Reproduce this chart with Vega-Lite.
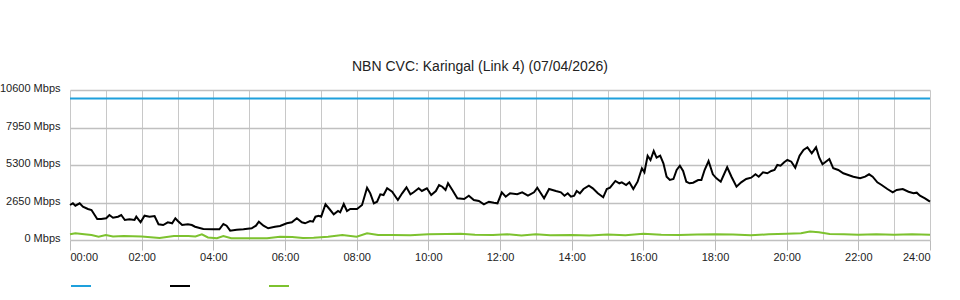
{
  "$schema": "https://vega.github.io/schema/vega-lite/v6.json",
  "width": 860,
  "height": 150,
  "autosize": {"type": "none"},
  "padding": {"left": 70, "top": 90, "right": 30, "bottom": 60},
  "background": "white",
  "title": {"text": "NBN CVC: Karingal (Link 4) (07/04/2026)", "fontSize": 14, "fontWeight": "normal", "color": "#222", "font": "Liberation Sans", "offset": 9, "anchor": "middle", "dx": -20},
  "config": {
    "font": "Liberation Sans",
    "view": {"stroke": null},
    "axis": {"labelFont": "Liberation Sans", "labelFontSize": 11, "labelColor": "#222"}
  },
  "data": {"values": [
    {"series": "Capacity", "t": 0, "v": 10000},
    {"series": "Capacity", "t": 24, "v": 10000},
    {"series": "In", "t": 0.00, "v": 2473},
    {"series": "In", "t": 0.08, "v": 2594},
    {"series": "In", "t": 0.15, "v": 2424},
    {"series": "In", "t": 0.27, "v": 2594},
    {"series": "In", "t": 0.36, "v": 2353},
    {"series": "In", "t": 0.50, "v": 2191},
    {"series": "In", "t": 0.60, "v": 2120},
    {"series": "In", "t": 0.76, "v": 1484},
    {"series": "In", "t": 0.87, "v": 1484},
    {"series": "In", "t": 1.01, "v": 1534},
    {"series": "In", "t": 1.10, "v": 1767},
    {"series": "In", "t": 1.20, "v": 1576},
    {"series": "In", "t": 1.34, "v": 1647},
    {"series": "In", "t": 1.43, "v": 1767},
    {"series": "In", "t": 1.53, "v": 1413},
    {"series": "In", "t": 1.66, "v": 1463},
    {"series": "In", "t": 1.80, "v": 1413},
    {"series": "In", "t": 1.85, "v": 1647},
    {"series": "In", "t": 1.97, "v": 1251},
    {"series": "In", "t": 2.08, "v": 1717},
    {"series": "In", "t": 2.22, "v": 1647},
    {"series": "In", "t": 2.36, "v": 1696},
    {"series": "In", "t": 2.47, "v": 1110},
    {"series": "In", "t": 2.60, "v": 1060},
    {"series": "In", "t": 2.73, "v": 1251},
    {"series": "In", "t": 2.85, "v": 1180},
    {"series": "In", "t": 2.94, "v": 1534},
    {"series": "In", "t": 3.01, "v": 1343},
    {"series": "In", "t": 3.13, "v": 1060},
    {"series": "In", "t": 3.29, "v": 1110},
    {"series": "In", "t": 3.40, "v": 1060},
    {"series": "In", "t": 3.49, "v": 940},
    {"series": "In", "t": 3.72, "v": 777},
    {"series": "In", "t": 4.00, "v": 756},
    {"series": "In", "t": 4.17, "v": 756},
    {"series": "In", "t": 4.28, "v": 1131},
    {"series": "In", "t": 4.37, "v": 1011},
    {"series": "In", "t": 4.47, "v": 657},
    {"series": "In", "t": 4.65, "v": 728},
    {"series": "In", "t": 4.84, "v": 756},
    {"series": "In", "t": 5.07, "v": 827},
    {"series": "In", "t": 5.19, "v": 1011},
    {"series": "In", "t": 5.27, "v": 1293},
    {"series": "In", "t": 5.40, "v": 1011},
    {"series": "In", "t": 5.53, "v": 827},
    {"series": "In", "t": 5.72, "v": 940},
    {"series": "In", "t": 5.86, "v": 989},
    {"series": "In", "t": 6.05, "v": 1180},
    {"series": "In", "t": 6.19, "v": 1251},
    {"series": "In", "t": 6.33, "v": 1534},
    {"series": "In", "t": 6.47, "v": 1251},
    {"series": "In", "t": 6.56, "v": 1180},
    {"series": "In", "t": 6.70, "v": 1343},
    {"series": "In", "t": 6.78, "v": 1293},
    {"series": "In", "t": 6.85, "v": 1647},
    {"series": "In", "t": 6.94, "v": 1717},
    {"series": "In", "t": 7.01, "v": 1647},
    {"series": "In", "t": 7.13, "v": 2523},
    {"series": "In", "t": 7.24, "v": 2191},
    {"series": "In", "t": 7.36, "v": 1816},
    {"series": "In", "t": 7.48, "v": 2049},
    {"series": "In", "t": 7.54, "v": 1958},
    {"series": "In", "t": 7.64, "v": 2544},
    {"series": "In", "t": 7.73, "v": 2049},
    {"series": "In", "t": 7.82, "v": 2191},
    {"series": "In", "t": 8.01, "v": 2191},
    {"series": "In", "t": 8.15, "v": 2473},
    {"series": "In", "t": 8.29, "v": 3696},
    {"series": "In", "t": 8.38, "v": 3300},
    {"series": "In", "t": 8.48, "v": 2594},
    {"series": "In", "t": 8.57, "v": 2707},
    {"series": "In", "t": 8.66, "v": 3230},
    {"series": "In", "t": 8.75, "v": 3180},
    {"series": "In", "t": 8.85, "v": 3654},
    {"series": "In", "t": 8.99, "v": 3413},
    {"series": "In", "t": 9.15, "v": 2827},
    {"series": "In", "t": 9.27, "v": 3300},
    {"series": "In", "t": 9.39, "v": 3724},
    {"series": "In", "t": 9.50, "v": 3230},
    {"series": "In", "t": 9.59, "v": 3371},
    {"series": "In", "t": 9.73, "v": 3654},
    {"series": "In", "t": 9.82, "v": 3463},
    {"series": "In", "t": 9.96, "v": 3654},
    {"series": "In", "t": 10.08, "v": 3180},
    {"series": "In", "t": 10.21, "v": 3463},
    {"series": "In", "t": 10.30, "v": 3887},
    {"series": "In", "t": 10.39, "v": 3767},
    {"series": "In", "t": 10.48, "v": 3534},
    {"series": "In", "t": 10.55, "v": 4007},
    {"series": "In", "t": 10.67, "v": 3534},
    {"series": "In", "t": 10.81, "v": 2947},
    {"series": "In", "t": 11.00, "v": 2897},
    {"series": "In", "t": 11.13, "v": 3131},
    {"series": "In", "t": 11.27, "v": 2827},
    {"series": "In", "t": 11.41, "v": 2756},
    {"series": "In", "t": 11.55, "v": 2523},
    {"series": "In", "t": 11.69, "v": 2707},
    {"series": "In", "t": 11.83, "v": 2636},
    {"series": "In", "t": 11.93, "v": 2594},
    {"series": "In", "t": 12.05, "v": 3371},
    {"series": "In", "t": 12.16, "v": 3060},
    {"series": "In", "t": 12.28, "v": 3300},
    {"series": "In", "t": 12.48, "v": 3230},
    {"series": "In", "t": 12.62, "v": 3371},
    {"series": "In", "t": 12.78, "v": 3131},
    {"series": "In", "t": 12.95, "v": 3371},
    {"series": "In", "t": 13.04, "v": 3696},
    {"series": "In", "t": 13.23, "v": 2947},
    {"series": "In", "t": 13.37, "v": 3604},
    {"series": "In", "t": 13.56, "v": 3463},
    {"series": "In", "t": 13.70, "v": 3371},
    {"series": "In", "t": 13.80, "v": 3131},
    {"series": "In", "t": 13.89, "v": 3300},
    {"series": "In", "t": 13.98, "v": 3060},
    {"series": "In", "t": 14.07, "v": 3131},
    {"series": "In", "t": 14.14, "v": 3463},
    {"series": "In", "t": 14.23, "v": 3300},
    {"series": "In", "t": 14.33, "v": 3604},
    {"series": "In", "t": 14.48, "v": 3837},
    {"series": "In", "t": 14.59, "v": 3654},
    {"series": "In", "t": 14.73, "v": 3300},
    {"series": "In", "t": 14.88, "v": 3018},
    {"series": "In", "t": 14.98, "v": 3604},
    {"series": "In", "t": 15.07, "v": 3696},
    {"series": "In", "t": 15.22, "v": 4170},
    {"series": "In", "t": 15.33, "v": 4007},
    {"series": "In", "t": 15.40, "v": 4078},
    {"series": "In", "t": 15.52, "v": 3887},
    {"series": "In", "t": 15.61, "v": 4078},
    {"series": "In", "t": 15.72, "v": 3604},
    {"series": "In", "t": 15.84, "v": 4120},
    {"series": "In", "t": 15.96, "v": 5067},
    {"series": "In", "t": 16.03, "v": 4784},
    {"series": "In", "t": 16.12, "v": 5957},
    {"series": "In", "t": 16.20, "v": 5654},
    {"series": "In", "t": 16.29, "v": 6290},
    {"series": "In", "t": 16.37, "v": 5816},
    {"series": "In", "t": 16.47, "v": 5957},
    {"series": "In", "t": 16.56, "v": 5420},
    {"series": "In", "t": 16.65, "v": 4473},
    {"series": "In", "t": 16.74, "v": 4240},
    {"series": "In", "t": 16.84, "v": 4311},
    {"series": "In", "t": 16.93, "v": 4947},
    {"series": "In", "t": 17.02, "v": 5251},
    {"series": "In", "t": 17.11, "v": 4876},
    {"series": "In", "t": 17.20, "v": 4120},
    {"series": "In", "t": 17.29, "v": 4007},
    {"series": "In", "t": 17.39, "v": 4049},
    {"series": "In", "t": 17.53, "v": 4240},
    {"series": "In", "t": 17.62, "v": 4240},
    {"series": "In", "t": 17.71, "v": 4947},
    {"series": "In", "t": 17.82, "v": 5583},
    {"series": "In", "t": 17.94, "v": 4643},
    {"series": "In", "t": 18.04, "v": 4360},
    {"series": "In", "t": 18.16, "v": 4120},
    {"series": "In", "t": 18.34, "v": 5138},
    {"series": "In", "t": 18.46, "v": 4473},
    {"series": "In", "t": 18.60, "v": 3767},
    {"series": "In", "t": 18.73, "v": 4078},
    {"series": "In", "t": 18.87, "v": 4311},
    {"series": "In", "t": 19.01, "v": 4403},
    {"series": "In", "t": 19.13, "v": 4643},
    {"series": "In", "t": 19.22, "v": 4473},
    {"series": "In", "t": 19.34, "v": 4784},
    {"series": "In", "t": 19.46, "v": 4714},
    {"series": "In", "t": 19.57, "v": 4876},
    {"series": "In", "t": 19.66, "v": 4947},
    {"series": "In", "t": 19.74, "v": 5300},
    {"series": "In", "t": 19.83, "v": 5251},
    {"series": "In", "t": 19.93, "v": 5491},
    {"series": "In", "t": 20.02, "v": 5654},
    {"series": "In", "t": 20.13, "v": 5533},
    {"series": "In", "t": 20.24, "v": 5109},
    {"series": "In", "t": 20.36, "v": 5957},
    {"series": "In", "t": 20.47, "v": 6360},
    {"series": "In", "t": 20.58, "v": 6551},
    {"series": "In", "t": 20.70, "v": 6127},
    {"series": "In", "t": 20.82, "v": 6551},
    {"series": "In", "t": 20.91, "v": 5816},
    {"series": "In", "t": 21.00, "v": 5350},
    {"series": "In", "t": 21.12, "v": 5583},
    {"series": "In", "t": 21.19, "v": 5724},
    {"series": "In", "t": 21.30, "v": 5067},
    {"series": "In", "t": 21.44, "v": 4947},
    {"series": "In", "t": 21.58, "v": 4714},
    {"series": "In", "t": 21.72, "v": 4594},
    {"series": "In", "t": 21.86, "v": 4473},
    {"series": "In", "t": 22.05, "v": 4360},
    {"series": "In", "t": 22.19, "v": 4473},
    {"series": "In", "t": 22.30, "v": 4643},
    {"series": "In", "t": 22.40, "v": 4473},
    {"series": "In", "t": 22.53, "v": 4078},
    {"series": "In", "t": 22.65, "v": 3887},
    {"series": "In", "t": 22.81, "v": 3604},
    {"series": "In", "t": 22.96, "v": 3371},
    {"series": "In", "t": 23.07, "v": 3534},
    {"series": "In", "t": 23.24, "v": 3604},
    {"series": "In", "t": 23.40, "v": 3413},
    {"series": "In", "t": 23.54, "v": 3300},
    {"series": "In", "t": 23.63, "v": 3343},
    {"series": "In", "t": 23.72, "v": 3131},
    {"series": "In", "t": 23.86, "v": 2947},
    {"series": "In", "t": 24.00, "v": 2707},
    {"series": "Out", "t": 0.0, "v": 403},
    {"series": "Out", "t": 0.15, "v": 473},
    {"series": "Out", "t": 0.4, "v": 403},
    {"series": "Out", "t": 0.6, "v": 353},
    {"series": "Out", "t": 0.8, "v": 233},
    {"series": "Out", "t": 1.0, "v": 353},
    {"series": "Out", "t": 1.2, "v": 247},
    {"series": "Out", "t": 1.5, "v": 283},
    {"series": "Out", "t": 2.0, "v": 250},
    {"series": "Out", "t": 2.5, "v": 141},
    {"series": "Out", "t": 2.9, "v": 283},
    {"series": "Out", "t": 3.3, "v": 283},
    {"series": "Out", "t": 3.5, "v": 250},
    {"series": "Out", "t": 3.68, "v": 403},
    {"series": "Out", "t": 3.85, "v": 177},
    {"series": "Out", "t": 4.1, "v": 120},
    {"series": "Out", "t": 4.28, "v": 283},
    {"series": "Out", "t": 4.5, "v": 120},
    {"series": "Out", "t": 5.0, "v": 120},
    {"series": "Out", "t": 5.5, "v": 120},
    {"series": "Out", "t": 5.86, "v": 233},
    {"series": "Out", "t": 6.2, "v": 212},
    {"series": "Out", "t": 6.5, "v": 141},
    {"series": "Out", "t": 6.8, "v": 163},
    {"series": "Out", "t": 7.2, "v": 233},
    {"series": "Out", "t": 7.6, "v": 353},
    {"series": "Out", "t": 8.0, "v": 233},
    {"series": "Out", "t": 8.29, "v": 473},
    {"series": "Out", "t": 8.6, "v": 353},
    {"series": "Out", "t": 9.0, "v": 353},
    {"series": "Out", "t": 9.5, "v": 330},
    {"series": "Out", "t": 10.0, "v": 403},
    {"series": "Out", "t": 10.5, "v": 424},
    {"series": "Out", "t": 10.9, "v": 438},
    {"series": "Out", "t": 11.3, "v": 375},
    {"series": "Out", "t": 11.8, "v": 353},
    {"series": "Out", "t": 12.2, "v": 403},
    {"series": "Out", "t": 12.6, "v": 318},
    {"series": "Out", "t": 13.0, "v": 403},
    {"series": "Out", "t": 13.4, "v": 330},
    {"series": "Out", "t": 14.0, "v": 353},
    {"series": "Out", "t": 14.5, "v": 318},
    {"series": "Out", "t": 15.0, "v": 389},
    {"series": "Out", "t": 15.5, "v": 339},
    {"series": "Out", "t": 16.0, "v": 445},
    {"series": "Out", "t": 16.5, "v": 375},
    {"series": "Out", "t": 17.0, "v": 353},
    {"series": "Out", "t": 17.5, "v": 389},
    {"series": "Out", "t": 18.0, "v": 403},
    {"series": "Out", "t": 18.5, "v": 389},
    {"series": "Out", "t": 19.0, "v": 330},
    {"series": "Out", "t": 19.5, "v": 403},
    {"series": "Out", "t": 20.0, "v": 445},
    {"series": "Out", "t": 20.4, "v": 473},
    {"series": "Out", "t": 20.65, "v": 600},
    {"series": "Out", "t": 20.9, "v": 544},
    {"series": "Out", "t": 21.2, "v": 424},
    {"series": "Out", "t": 21.6, "v": 403},
    {"series": "Out", "t": 22.0, "v": 375},
    {"series": "Out", "t": 22.5, "v": 403},
    {"series": "Out", "t": 23.0, "v": 375},
    {"series": "Out", "t": 23.5, "v": 403},
    {"series": "Out", "t": 24.0, "v": 375}
  ]},
  "encoding": {
    "y": {"field": "v", "type": "quantitative",
      "scale": {"domain": [0, 10600], "nice": false, "zero": true},
      "axis": {"title": null, "values": [0, 2650, 5300, 7950, 10600], "labelExpr": "format(datum.value, 'd') + ' Mbps'", "grid": true, "gridColor": "#c0c0c0", "gridWidth": 1.5, "ticks": false, "domain": false, "labelPadding": 10, "labelOffset": -1.5}}
  },
  "layer": [
    {
      "mark": {"type": "line", "opacity": 0},
      "encoding": {
        "x": {"field": "t", "type": "quantitative", "scale": {"domain": [0, 24], "nice": false, "zero": false},
          "axis": {"title": null, "orient": "bottom", "values": [0,1,2,3,4,5,6,7,8,9,10,11,12,13,14,15,16,17,18,19,20,21,22,23,24], "grid": true, "gridColor": "#c8c8c8", "gridWidth": 1, "labels": false, "ticks": false, "domain": false}},
        "detail": {"field": "series"}
      }
    },
    {
      "mark": {"type": "line", "strokeWidth": 2, "interpolate": "linear"},
      "encoding": {
        "x": {"field": "t", "type": "quantitative", "scale": {"domain": [0, 24], "nice": false, "zero": false},
          "axis": {"title": null, "orient": "bottom", "values": [0,2,4,6,8,10,12,14,16,18,20,22,24], "labelExpr": "(datum.value < 10 ? '0' : '') + datum.value + ':00'", "grid": false, "domain": false, "ticks": true, "tickSize": 10, "tickColor": "#bbbbbb", "tickWidth": 1, "labelPadding": 1}},
        "color": {"field": "series", "type": "nominal",
          "scale": {"domain": ["Capacity", "In", "Out"], "range": ["#1ea0dc", "#000000", "#7dc22f"]},
          "legend": {"orient": "none", "legendX": 0, "legendY": 185, "direction": "horizontal", "title": null, "symbolType": "stroke", "symbolSize": 400, "symbolStrokeWidth": 2, "labelExpr": "''", "labelOffset": 0, "columnPadding": 71, "symbolOffset": 0}}
      }
    }
  ],
  "resolve": {"axis": {"x": "independent"}}
}
